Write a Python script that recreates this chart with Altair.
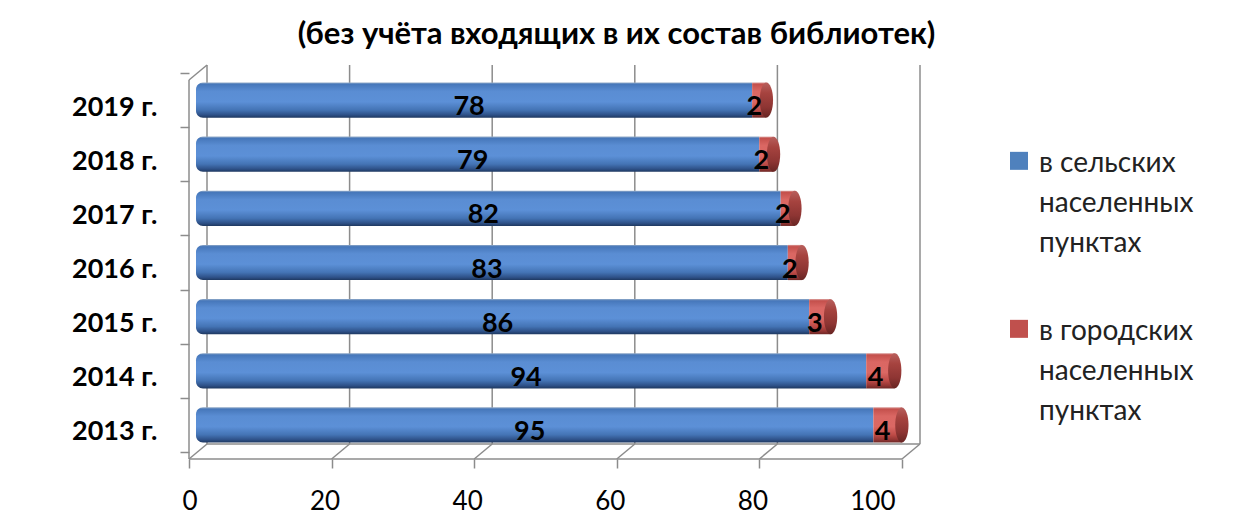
import altair as alt
import pandas as pd

# ---- data ----
years = ["2013 г.", "2014 г.", "2015 г.", "2016 г.", "2017 г.", "2018 г.", "2019 г."]
rural = [95, 94, 86, 83, 82, 79, 78]
urban = [4, 4, 3, 2, 2, 2, 2]
series_names = ["в сельских населенных пунктах", "в городских населенных пунктах"]
series_colors = ["#4F81BD", "#C0504D"]
x_ticks = [0, 20, 40, 60, 80, 100]
title_text = "(без учёта входящих в их состав библиотек)"

S0, S1 = series_names
df = pd.DataFrame({"year": years, S0: rural, S1: urban})
grid_df = pd.DataFrame({"g": x_ticks})
years_top = list(reversed(years))

W, H = 713, 379
FONT = "Lato"
GRID = "#8c8c8c"

def grad(stops):
    return alt.LinearGradient(
        gradient="linear",
        stops=[alt.GradientStop(color=c, offset=o) for o, c in stops],
        x1=0, x2=0, y1=0, y2=1,
    )

blue_grad = grad([(0, "#93ABC8"), (0.05, "#4677BA"), (0.25, "#5A8DD3"), (0.55, "#5C90D7"),
                  (0.78, "#4474B5"), (0.92, "#2E5188"), (1, "#1E3860")])
red_grad = grad([(0, "#D99A98"), (0.05, "#C4504C"), (0.25, "#DA6763"), (0.55, "#DB6864"),
                 (0.78, "#BE4B47"), (0.92, "#933533"), (1, "#6E2826")])
cap_grad = grad([(0, "#B8605D"), (0.3, "#A6433F"), (0.7, "#8E3533"), (1, "#682523")])

xscale = alt.Scale(domain=[0, 100], nice=False)
yscale = alt.Scale(domain=years_top, paddingInner=0, paddingOuter=0)

x_axis = alt.Axis(values=x_ticks, offset=7, tickOffset=-7, labelOffset=-7, tickSize=9,
                  tickColor=GRID, tickWidth=1.5, domain=False, grid=False, labelFont=FONT,
                  labelFontSize=26, labelColor="black", labelPadding=20, title=None)
y_axis = alt.Axis(orient="left", offset=7, tickBand="extent", tickOffset=7, labelOffset=7,
                  tickSize=9, tickColor=GRID, tickWidth=1.5, domain=False, grid=False,
                  labelFont=FONT, labelFontSize=27, labelFontWeight="bold", labelColor="black",
                  labelPadding=23, title=None)

sq_path = "M-1,-2.24H1V-0.24H-1Z"
label_expr = ("[split(datum.label,' ')[0] + ' ' + split(datum.label,' ')[1], "
              "split(datum.label,' ')[2], split(datum.label,' ')[3]]")

legend = alt.Legend(title=None, orient="none", legendX=809, legendY=85, direction="vertical",
                    symbolType=sq_path, symbolSize=324, symbolStrokeWidth=0, symbolOpacity=1,
                    labelFont=FONT, labelFontSize=28, labelColor="#222222",
                    labelBaseline="alphabetic", labelOffset=6, labelLimit=400,
                    rowPadding=60, padding=0, labelExpr=label_expr)

base = alt.Chart(df)

# legend-carrying (invisible) stacked layer
legend_layer = base.transform_fold(series_names, as_=["series", "val"]).transform_calculate(
    ord="indexof(" + str(series_names).replace("'", '"') + ", datum.series)"
).mark_bar(opacity=0).encode(
    x=alt.X("val:Q", stack="zero", scale=xscale, axis=x_axis),
    y=alt.Y("year:N", scale=yscale, sort=years_top, axis=y_axis),
    color=alt.Color("series:N", scale=alt.Scale(domain=series_names, range=series_colors),
                    legend=legend),
    order=alt.Order("ord:Q"),
)

# 3D frame
grid_back = alt.Chart(grid_df).mark_rule(color=GRID, strokeWidth=1.5, xOffset=11,
                                         yOffset=-8, y2Offset=-8).encode(
    x=alt.X("g:Q", scale=xscale), y=alt.value(0), y2=alt.value(H))
floor_diag = alt.Chart(grid_df).mark_rule(color=GRID, strokeWidth=1.5, xOffset=-7, x2Offset=11,
                                          yOffset=7, y2Offset=-8).encode(
    x=alt.X("g:Q", scale=xscale), x2=alt.X2("g"), y=alt.value(H), y2=alt.value(H))
floor_front = alt.Chart(grid_df).mark_rule(color=GRID, strokeWidth=1.5, xOffset=-7, x2Offset=-7,
                                           yOffset=7, y2Offset=7).encode(
    x=alt.X("min(g):Q", scale=xscale), x2=alt.X2("max(g)"), y=alt.value(H), y2=alt.value(H))
floor_back = alt.Chart(grid_df).mark_rule(color=GRID, strokeWidth=1.5, xOffset=11, x2Offset=11,
                                          yOffset=-8, y2Offset=-8).encode(
    x=alt.X("min(g):Q", scale=xscale), x2=alt.X2("max(g)"), y=alt.value(H), y2=alt.value(H))
wall_front = alt.Chart(grid_df).mark_rule(color=GRID, strokeWidth=1.5, xOffset=-7,
                                          yOffset=7, y2Offset=7).encode(
    x=alt.X("min(g):Q", scale=xscale), y=alt.value(0), y2=alt.value(H))
wall_top = alt.Chart(grid_df).mark_rule(color=GRID, strokeWidth=1.5, xOffset=-7, x2Offset=11,
                                        yOffset=7, y2Offset=-8).encode(
    x=alt.X("min(g):Q", scale=xscale), x2=alt.X2("min(g)"), y=alt.value(0), y2=alt.value(0))

bar_h = alt.RelativeBandSize(band=0.65)

blue_bars = base.mark_bar(fill=blue_grad, height=bar_h, cornerRadiusTopLeft=7,
                          cornerRadiusBottomLeft=7).encode(
    x=alt.X(f"{S0}:Q", scale=xscale), x2=alt.datum(0),
    y=alt.Y("year:N", scale=yscale, sort=years_top))

red_bars = base.transform_calculate(total=f"datum['{S0}'] + datum['{S1}']").mark_bar(
    fill=red_grad, height=bar_h).encode(
    x=alt.X("total:Q", scale=xscale), x2=alt.X2(S0),
    y=alt.Y("year:N", scale=yscale, sort=years_top))

cap_path = "M0,-1A0.38,1 0 1,1 0,1A0.38,1 0 1,1 0,-1Z"
caps = base.transform_calculate(total=f"datum['{S0}'] + datum['{S1}']").mark_point(
    shape=cap_path, size=35 * 35, filled=True, fill=cap_grad, strokeWidth=0, opacity=1).encode(
    x=alt.X("total:Q", scale=xscale),
    y=alt.Y("year:N", scale=yscale, sort=years_top))

blue_text = base.transform_calculate(mid=f"datum['{S0}'] / 2").mark_text(
    font=FONT, fontSize=27, fontWeight="bold", color="black", dx=-5, dy=7).encode(
    x=alt.X("mid:Q", scale=xscale), y=alt.Y("year:N", scale=yscale, sort=years_top),
    text=alt.Text(f"{S0}:Q"))

red_text = base.transform_calculate(mid=f"datum['{S0}'] + datum['{S1}'] / 2").mark_text(
    font=FONT, fontSize=27, fontWeight="bold", color="black", dx=-5, dy=7).encode(
    x=alt.X("mid:Q", scale=xscale), y=alt.Y("year:N", scale=yscale, sort=years_top),
    text=alt.Text(f"{S1}:Q"))

chart = alt.layer(
    legend_layer, grid_back, floor_diag, floor_front, floor_back, wall_front, wall_top,
    blue_bars, red_bars, caps, blue_text, red_text,
).properties(
    width=W, height=H,
    autosize=alt.AutoSizeParams(type="none"),
    padding={"left": 188, "top": 65, "right": 323, "bottom": 72},
    title=alt.TitleParams(text=title_text, anchor="middle", dx=64, offset=-16, fontSize=31,
                          font=FONT, fontWeight="bold", color="black", baseline="alphabetic"),
).configure(
    style={"guide-label": {"lineHeight": 40}}
).configure_view(stroke=None)

chart.save("out.html", embed_options={"renderer": "svg", "actions": False})
